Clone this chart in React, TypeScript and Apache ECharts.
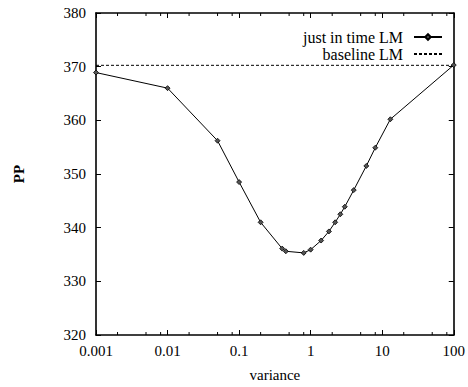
import React, { useEffect, useRef } from "react";
import * as echarts from "echarts";

const variance = [0.001, 0.01, 0.05, 0.1, 0.2, 0.4, 0.45, 0.8, 1, 1.4, 1.8, 2.2, 2.6, 3, 4, 6, 8, 13, 100];
const pp = [368.9, 366.0, 356.2, 348.5, 341.0, 336.1, 335.6, 335.3, 335.9, 337.6, 339.3, 341.0, 342.5, 343.9, 347.0, 351.5, 354.9, 360.2, 370.3];
const baselineX = [0.001, 100];
const baselineValue = 370.25;
const seriesNames = ["just in time LM", "baseline LM"];
const minorMultipliers = [2, 5, 8];
const decadeStarts = [0.001, 0.01, 0.1, 1, 10];
const yMin = 320;
const yMax = 380;

const FONT = "'Liberation Serif', 'DejaVu Serif', serif";

export default function App() {
  const ref = useRef<HTMLDivElement>(null);
  useEffect(() => {
    if (!ref.current) return;
    const chart = echarts.init(ref.current, undefined, { renderer: "svg" });
    const minorTicks: number[][] = [];
    decadeStarts.forEach((d) => minorMultipliers.forEach((m) => minorTicks.push([d * m])));

    const baseLog = {
      type: "log" as const,
      logBase: 10,
      min: 0.001,
      max: 100,
      gridIndex: 0,
      splitLine: { show: false },
      axisLine: { onZero: false, lineStyle: { color: "#000", width: 1.6 } },
      axisTick: { inside: true, length: 5, lineStyle: { color: "#000", width: 1 } },
    };
    const baseY = {
      type: "value" as const,
      min: yMin,
      max: yMax,
      interval: 10,
      splitLine: { show: false },
      axisLine: { onZero: false, lineStyle: { color: "#000", width: 1.6 } },
      axisTick: { inside: true, length: 5, lineStyle: { color: "#000", width: 1 } },
    };

    chart.setOption({
      animation: false,
      backgroundColor: "#fff",
      grid: { left: 96, right: 12, top: 13, bottom: 46, containLabel: false },
      legend: {
        data: [
          { name: seriesNames[0] },
          { name: seriesNames[1], itemStyle: { color: "rgba(0,0,0,0)", borderWidth: 0 } },
        ],
        orient: "vertical",
        right: 25,
        top: 29,
        padding: 0,
        align: "right",
        itemWidth: 28,
        itemHeight: 7,
        itemGap: 1,
        textStyle: { fontFamily: FONT, fontSize: 16, color: "#000", padding: [0, 6, 0, 0] },
      },
      xAxis: [
        {
          ...baseLog,
          position: "bottom",
          axisLabel: { color: "#000", fontFamily: FONT, fontSize: 15, margin: 8 },
          name: "variance",
          nameLocation: "middle",
          nameGap: 32,
          nameTextStyle: { color: "#000", fontFamily: FONT, fontSize: 15 },
        },
        { ...baseLog, position: "top", axisLabel: { show: false } },
      ],
      yAxis: [
        {
          ...baseY,
          position: "left",
          axisLabel: { color: "#000", fontFamily: FONT, fontSize: 15, margin: 10 },
          name: "PP",
          nameLocation: "middle",
          nameGap: 70,
          nameRotate: 90,
          nameTextStyle: { color: "#000", fontFamily: FONT, fontSize: 15, fontWeight: "bold" },
        },
        { ...baseY, position: "right", axisLabel: { show: false } },
      ],
      series: [
        {
          name: "minor ticks",
          type: "custom",
          xAxisIndex: 0,
          yAxisIndex: 0,
          silent: true,
          clip: false,
          data: minorTicks,
          renderItem: (params: any, api: any) => {
            const v = api.value(0);
            const b = api.coord([v, yMin]);
            const t = api.coord([v, yMax]);
            const style = { stroke: "#000", lineWidth: 1 };
            return {
              type: "group",
              children: [
                { type: "line", shape: { x1: b[0], y1: b[1], x2: b[0], y2: b[1] - 3 }, style },
                { type: "line", shape: { x1: t[0], y1: t[1], x2: t[0], y2: t[1] + 3 }, style },
              ],
            };
          },
        },
        {
          name: seriesNames[0],
          type: "line",
          xAxisIndex: 0,
          yAxisIndex: 0,
          data: variance.map((v, i) => [v, pp[i]]),
          symbol: "diamond",
          symbolSize: 5,
          lineStyle: { color: "#000", width: 1 },
          itemStyle: { color: "#555", borderColor: "#000", borderWidth: 0.8 },
        },
        {
          name: seriesNames[1],
          type: "line",
          xAxisIndex: 0,
          yAxisIndex: 0,
          data: baselineX.map((v) => [v, baselineValue]),
          symbol: "none",
          lineStyle: { color: "#000", width: 1, type: [3, 2] },
          itemStyle: { color: "#000" },
        },
      ],
    });
    return () => chart.dispose();
  }, []);
  return <div ref={ref} style={{ position: "fixed", left: 0, top: 0, width: 468, height: 387 }} />;
}
